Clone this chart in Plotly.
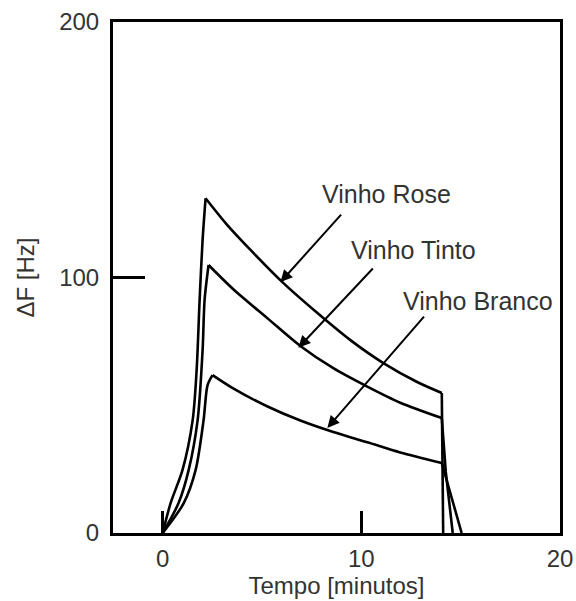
import plotly.graph_objects as go

# ---- data ----
# each series: rising part (0 -> peak), decay part (peak -> end of exposure), drop part (end -> 0)
rose_rise_t = [0, 0.40, 1.00, 1.51, 1.71, 1.86, 2.01, 2.16]
rose_rise_f = [0, 11.7, 24.7, 44.2, 63.8, 91.2, 114.7, 131.0]
rose_decay_t = [2.16, 3.20, 4.42, 6.08, 7.79, 9.45, 11.11, 12.81, 14.05]
rose_decay_f = [131.0, 121.0, 110.8, 97.8, 86.1, 75.5, 66.5, 59.1, 54.8]
rose_drop_t = [14.05, 14.12]
rose_drop_f = [54.8, 0]

tinto_rise_t = [0, 0.80, 1.31, 1.76, 2.01, 2.11, 2.31]
tinto_rise_f = [0, 11.7, 24.7, 44.2, 71.6, 91.2, 104.9]
tinto_decay_t = [2.31, 3.57, 5.28, 6.93, 8.59, 10.30, 11.96, 14.05]
tinto_decay_f = [104.9, 95.3, 84.0, 73.2, 64.5, 57.3, 51.0, 45.0]
tinto_drop_t = [14.05, 14.25, 14.60]
tinto_drop_f = [45.0, 24.0, 0]

branco_rise_t = [0, 1.06, 1.66, 2.06, 2.26, 2.51]
branco_rise_f = [0, 11.7, 24.7, 44.2, 57.9, 61.8]
branco_decay_t = [2.51, 3.57, 5.28, 6.93, 8.59, 10.30, 11.96, 14.05]
branco_decay_f = [61.8, 56.5, 49.5, 44.0, 39.5, 35.5, 31.5, 27.4]
branco_drop_t = [14.05, 15.05]
branco_drop_f = [27.4, 0]

labels = ["Vinho Rose", "Vinho Tinto", "Vinho Branco"]
label_pos = [(11.26, 132.7), (12.61, 110.8), (15.88, 90.8)]
arrow_head = [(5.93, 98.2), (6.83, 72.5), (8.29, 41.1)]
arrow_tail = [(9.05, 125.2), (10.65, 104.1), (13.22, 85.3)]

x_ticks = [0, 10, 20]
y_ticks = [0, 100, 200]

FONT = "Liberation Sans, Arial, sans-serif"
TXT = "#333"

series = [
    (labels[0], rose_rise_t, rose_rise_f, rose_decay_t, rose_decay_f, rose_drop_t, rose_drop_f),
    (labels[1], tinto_rise_t, tinto_rise_f, tinto_decay_t, tinto_decay_f, tinto_drop_t, tinto_drop_f),
    (labels[2], branco_rise_t, branco_rise_f, branco_decay_t, branco_decay_f, branco_drop_t, branco_drop_f),
]

fig = go.Figure()
for name, rt, rf, dt, df, qt, qf in series:
    for t, f, shape in [(rt, rf, "spline"), (dt, df, "spline"), (qt, qf, "linear")]:
        fig.add_trace(go.Scatter(x=t, y=f, mode="lines", name=name,
                                 line=dict(color="black", width=2.6, shape=shape, smoothing=0.8),
                                 showlegend=False))

annotations = []
for (lx, ly), txt in zip(label_pos, labels):
    annotations.append(dict(x=lx, y=ly, xref="x", yref="y", text=txt, showarrow=False,
                            font=dict(family=FONT, size=25, color=TXT),
                            xanchor="center", yanchor="middle"))
for (hx, hy), (tx, ty) in zip(arrow_head, arrow_tail):
    annotations.append(dict(x=hx, y=hy, ax=tx, ay=ty, xref="x", yref="y", axref="x", ayref="y",
                            text="", showarrow=True, arrowhead=2, arrowsize=1.2, arrowwidth=2,
                            arrowcolor="black"))

fig.update_layout(
    width=576, height=601,
    margin=dict(l=113, r=16, t=22, b=68, autoexpand=False),
    paper_bgcolor="white", plot_bgcolor="white",
    font=dict(family=FONT, size=24, color=TXT),
    annotations=annotations,
)
fig.update_xaxes(range=[-2.5, 20], tickvals=x_ticks, ticks="inside", ticklen=22, tickwidth=2.5,
                 tickcolor="black", showline=True, linecolor="black", linewidth=3, mirror=True,
                 showgrid=False, zeroline=False, ticklabelstandoff=2, automargin=False,
                 tickfont=dict(family=FONT, size=24, color=TXT),
                 title=dict(text="Tempo [minutos]", standoff=4,
                            font=dict(family=FONT, size=24, color=TXT)))
fig.update_yaxes(range=[0, 200], tickvals=y_ticks, ticks="inside", ticklen=32, tickwidth=2.5,
                 tickcolor="black", showline=True, linecolor="black", linewidth=3, mirror=True,
                 showgrid=False, zeroline=False, ticklabelstandoff=6, automargin=False,
                 tickfont=dict(family=FONT, size=24, color=TXT),
                 title=dict(text="ΔF [Hz]", standoff=18,
                            font=dict(family=FONT, size=24, color=TXT)))

fig.write_html("out.html")
